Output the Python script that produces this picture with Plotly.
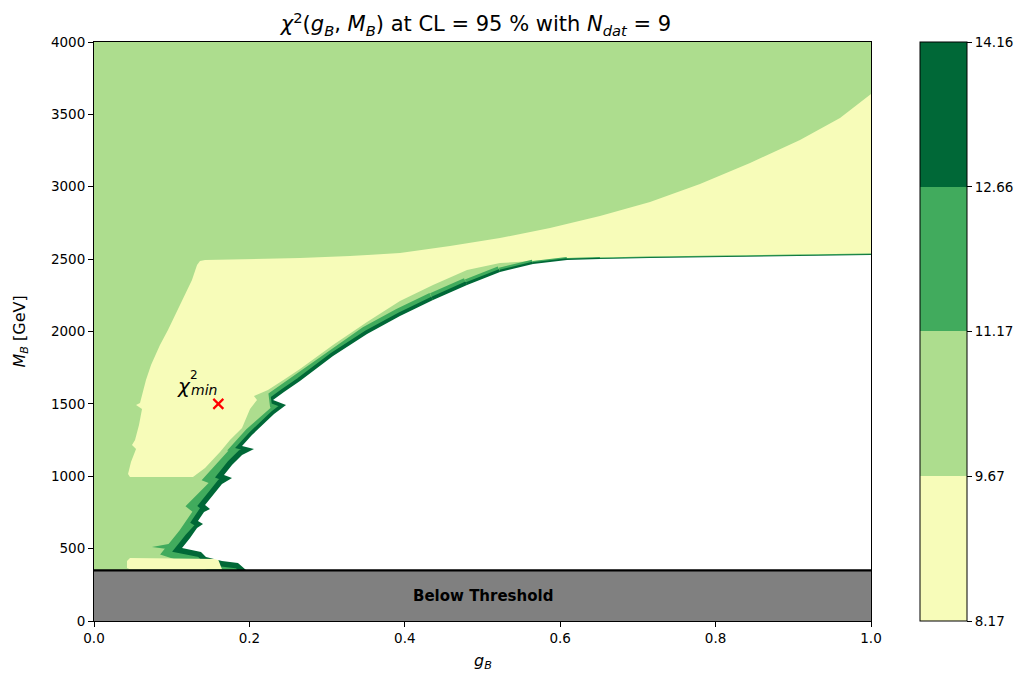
import plotly.graph_objects as go

# chi^2 contour levels (colour-bar boundaries) and the YlGn fill colours between them
levels = [8.17, 9.67, 11.17, 12.66, 14.16]
level_colors = ["#f7fcb9", "#addd8e", "#41ab5d", "#006837"]

threshold_mass = 350.0  # GeV, kinematic threshold
g_range = [0.0, 1.0]
M_range = [0.0, 4000.0]

# best-fit point
g_best = [0.16]
M_best = [1500.0]

# region of lowest chi^2 (8.17 - 9.67):
# jagged left edge, bottom edge, lower-right edge, right side, top edge
yellow_g = [0.1364, 0.1326, 0.1261, 0.1171, 0.1068, 0.0952, 0.0849, 0.0734, 0.0669, 0.0618,
            0.0592, 0.0541, 0.0618, 0.0579, 0.0528, 0.0489, 0.0541, 0.0476, 0.0438, 0.0463,
            0.1274, 0.1429, 0.1622, 0.1750, 0.1905, 0.2008, 0.2098, 0.2059, 0.2239, 0.2458,
            0.2651, 0.3076, 0.3514, 0.3938, 0.4363, 0.4801, 0.5225, 0.5650, 0.6126, 0.6512,
            0.7156, 1.0,
            1.0, 0.9601, 0.9086, 0.8443, 0.7799, 0.7156, 0.6512, 0.5869, 0.5225, 0.4582,
            0.3938, 0.3295, 0.2651, 0.2008, 0.1429]
yellow_M = [2487, 2459, 2356, 2252, 2135, 2010, 1907, 1768, 1665, 1561,
            1506, 1492, 1465, 1354, 1250, 1216, 1188, 1098, 1015, 995,
            995, 1057, 1167, 1250, 1333, 1465, 1527, 1554, 1596, 1672,
            1741, 1907, 2065, 2211, 2321, 2425, 2473, 2487, 2497, 2501,
            2508, 2528,
            3640, 3475, 3323, 3164, 3019, 2894, 2798, 2715, 2646, 2590,
            2542, 2521, 2507, 2501, 2494]

# thin low-chi^2 strip just above threshold
strip_g = [0.0463, 0.0425, 0.0425, 0.0463, 0.1647, 0.1596]
strip_M = [435, 414, 366, 357, 357, 428]

# leftward tooth of the 11.17 - 12.66 band at the foot of the excluded region
tooth_g = [0.0746, 0.1171, 0.1236]
tooth_M = [511, 553, 477]

# edge of the excluded (unfilled) region, from threshold up to the plateau and out to g = 1
edge_g = [0.196, 0.1853, 0.1647, 0.1441, 0.1377, 0.1133, 0.1236, 0.1326, 0.1403, 0.1338,
          0.1416, 0.1493, 0.1429, 0.1532, 0.1647, 0.1776, 0.1673, 0.1776, 0.1905, 0.2059,
          0.1905, 0.2033, 0.2162, 0.2317, 0.2471, 0.2304, 0.2445, 0.2651, 0.3076, 0.3514,
          0.3938, 0.4363, 0.4801, 0.5225, 0.5650, 0.6088, 0.6512, 0.7156, 1.0]
edge_M = [350, 401, 414, 442, 477, 504, 573, 642, 670, 691,
          753, 774, 801, 870, 946, 988, 1009, 1078, 1147, 1188,
          1209, 1285, 1354, 1430, 1492, 1527, 1582, 1658, 1831, 1983,
          2107, 2217, 2321, 2411, 2466, 2494, 2501, 2508, 2528]

x_ticks = [0.0, 0.2, 0.4, 0.6, 0.8, 1.0]
y_ticks = list(range(0, 4001, 500))

FONT = "DejaVu Sans"
fig = go.Figure()


def poly(xs, ys, color):
    fig.add_trace(go.Scatter(x=xs, y=ys, mode="lines", fill="toself",
                             fillcolor=color, line=dict(width=0),
                             hoverinfo="skip", showlegend=False))


def stroke(xs, ys, color, width):
    fig.add_trace(go.Scatter(x=xs, y=ys, mode="lines",
                             line=dict(color=color, width=width),
                             hoverinfo="skip", showlegend=False))


# lowest band (the 9.67 - 11.17 band is the plot background)
poly(yellow_g, yellow_M, level_colors[0])

# the two highest bands hug the excluded region; stroke widths (px) per stretch of edge
n_lower, n_mid = 19, 31
taper_mid = [15, 12, 9, 6, 4, 3]
taper_dark = [7.5, 6, 4.5, 3.5, 2.5, 1.5]
for band, color in ((0, level_colors[2]), (1, level_colors[3])):
    if band == 0:
        poly(tooth_g, tooth_M, color)
    lower_w, mid_w = ((26, 16), (11, 7.5))[band]
    stroke(edge_g[:n_lower + 1], edge_M[:n_lower + 1], color, lower_w)
    stroke(edge_g[n_lower:n_mid + 1], edge_M[n_lower:n_mid + 1], color, mid_w)
    taper = (taper_mid, taper_dark)[band]
    for k in range(n_mid, len(edge_g) - 1):
        j = min(k - n_mid, len(taper) - 1)
        stroke(edge_g[k:k + 2], edge_M[k:k + 2], color, taper[j])

poly(strip_g, strip_M, level_colors[0])

# excluded region
poly(edge_g + [g_range[1], edge_g[0]], edge_M + [threshold_mass, threshold_mass], "white")

# best-fit marker
fig.add_trace(go.Scatter(x=g_best, y=M_best, mode="markers",
                         marker=dict(symbol="x-thin", size=10,
                                     line=dict(color="red", width=2.2)),
                         hoverinfo="skip", showlegend=False))

# colour bar
span = levels[-1] - levels[0]
cs = []
for i, c in enumerate(level_colors):
    a = (levels[i] - levels[0]) / span
    b = (levels[i + 1] - levels[0]) / span
    cs += [[a, c], [b, c]]
fig.add_trace(go.Scatter(x=[-5, -5], y=[-5, -5], mode="markers",
                         marker=dict(color=[levels[0], levels[-1]], colorscale=cs,
                                     cmin=levels[0], cmax=levels[-1], size=1,
                                     showscale=True,
                                     colorbar=dict(x=1.0631, xanchor="left", xpad=0,
                                                   y=0.5, yanchor="middle", ypad=0,
                                                   len=1, lenmode="fraction",
                                                   thickness=47, outlinewidth=1,
                                                   outlinecolor="black",
                                                   tickvals=levels,
                                                   ticktext=[f"{v:.2f}" for v in levels],
                                                   ticks="outside", ticklen=5,
                                                   tickcolor="black",
                                                   tickfont=dict(family=FONT, size=13.5,
                                                                 color="black"))),
                         hoverinfo="skip", showlegend=False))

shapes = [
    dict(type="rect", xref="x", yref="y", x0=g_range[0], x1=g_range[1],
         y0=threshold_mass, y1=M_range[1], fillcolor=level_colors[1],
         line=dict(width=0), layer="below"),
    dict(type="rect", xref="x", yref="y", x0=g_range[0], x1=g_range[1],
         y0=M_range[0], y1=threshold_mass, fillcolor="#808080",
         line=dict(width=0), layer="above"),
    dict(type="line", xref="x", yref="y", x0=g_range[0], x1=g_range[1],
         y0=threshold_mass, y1=threshold_mass, line=dict(color="black", width=2.2),
         layer="above"),
]

annotations = [
    dict(x=0.5, y=threshold_mass / 2, xref="x", yref="y", showarrow=False,
         text="<b>Below Threshold</b>", font=dict(family=FONT, size=15, color="black")),
    dict(x=0.1158, y=1623, xref="x", yref="y", showarrow=False,
         text="<i>χ</i>", font=dict(family=FONT, size=20, color="black")),
    dict(x=0.1290, y=1700, xref="x", yref="y", showarrow=False,
         text="2", font=dict(family=FONT, size=12, color="black")),
    dict(x=0.1410, y=1596, xref="x", yref="y", showarrow=False,
         text="<i>min</i>", font=dict(family=FONT, size=14, color="black")),
    dict(x=0.5, y=-0.0708, xref="paper", yref="paper", showarrow=False,
         xanchor="center", yanchor="middle",
         text="<i>g<sub>B</sub></i>", font=dict(family=FONT, size=16, color="black")),
    dict(x=-0.0952, y=0.5, xref="paper", yref="paper", showarrow=False, textangle=-90,
         xanchor="center", yanchor="middle",
         text="<i>M<sub>B</sub></i> [GeV]", font=dict(family=FONT, size=16, color="black")),
]

axis_common = dict(showline=True, mirror=True, linecolor="black", linewidth=1,
                   ticks="outside", ticklen=5, tickwidth=1, tickcolor="black",
                   showgrid=False, zeroline=False,
                   tickfont=dict(family=FONT, size=13.5, color="black"))

fig.update_layout(
    width=1015, height=677,
    margin=dict(l=94, r=144, t=42, b=56, autoexpand=False),
    paper_bgcolor="white", plot_bgcolor="white",
    title=dict(text="<i>χ</i><sup>2</sup>(<i>g<sub>B</sub></i>, <i>M<sub>B</sub></i>) at CL = 95 % with <i>N<sub>dat</sub></i> = 9",
               x=0.4916, xref="paper", xanchor="center",
               y=1 - 24 / 677, yref="container", yanchor="middle",
               font=dict(family=FONT, size=21, color="black")),
    xaxis=dict(range=g_range, tickvals=x_ticks,
               ticktext=[f"{v:.1f}" for v in x_ticks], **axis_common),
    yaxis=dict(range=M_range, tickvals=y_ticks,
               ticktext=[str(v) for v in y_ticks], **axis_common),
    shapes=shapes, annotations=annotations,
)

fig.write_html("out.html")
